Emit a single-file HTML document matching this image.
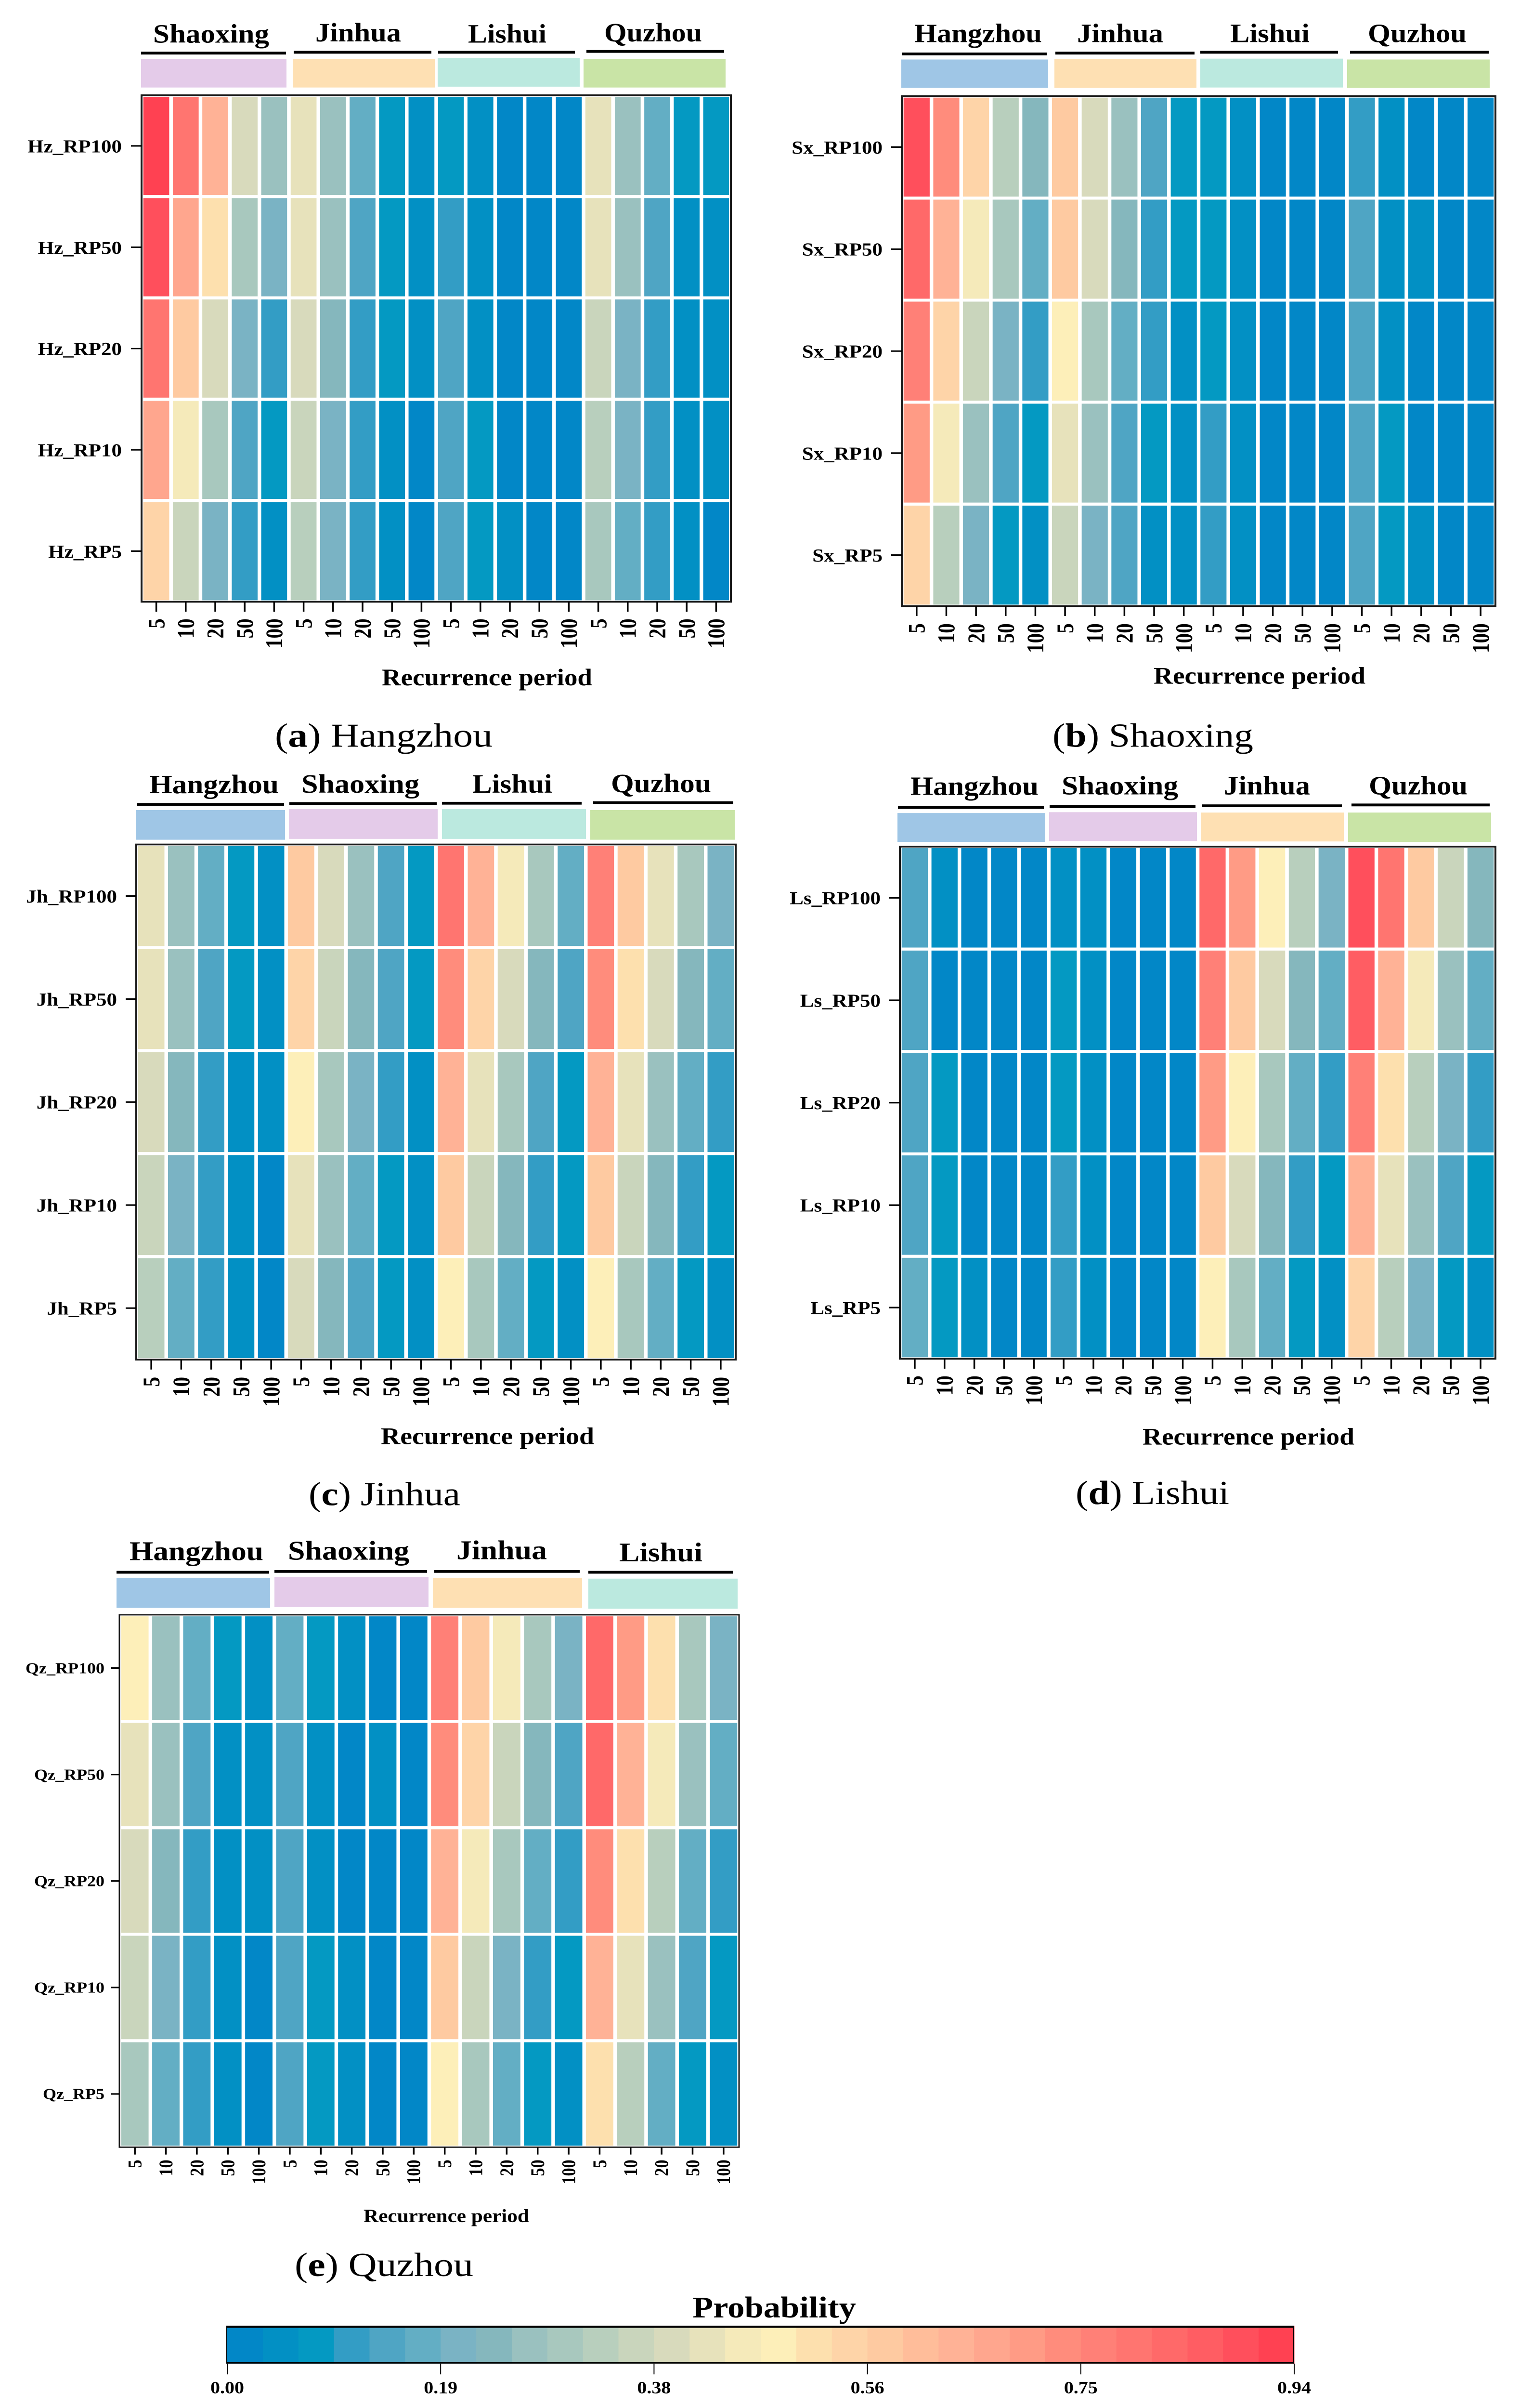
<!DOCTYPE html>
<html lang="en">
<head>
<meta charset="utf-8">
<title>Conditional probability heatmaps</title>
<style>
html,body{margin:0;padding:0;background:#fff;width:100%;height:100%;overflow:hidden;}
svg{display:block;width:100vw;height:100vh;}
text{font-family:"Liberation Serif",serif;fill:#000;}
</style>
</head>
<body>
<svg id="figure" xmlns="http://www.w3.org/2000/svg" viewBox="0 0 3157 5586" preserveAspectRatio="none">
<rect x="0" y="0" width="3157" height="5586" fill="#ffffff"/>
</svg>
<script>
// ---- Data ----
const recurrencePeriods = [5, 10, 20, 50, 100];
const rowPeriods = [100, 50, 20, 10, 5];

const hzGroups = ['Shaoxing', 'Jinhua', 'Lishui', 'Quzhou'];
const sxGroups = ['Hangzhou', 'Jinhua', 'Lishui', 'Quzhou'];
const jhGroups = ['Hangzhou', 'Shaoxing', 'Lishui', 'Quzhou'];
const lsGroups = ['Hangzhou', 'Shaoxing', 'Jinhua', 'Quzhou'];
const qzGroups = ['Hangzhou', 'Shaoxing', 'Jinhua', 'Lishui'];

const hzValues = [
  [.92,.80,.64,.39,.27, .42,.27,.17,.08,.05, .08,.05,.02,.02,.02, .42,.27,.17,.08,.08],
  [.89,.67,.52,.30,.20, .42,.27,.14,.08,.05, .11,.05,.02,.02,.02, .42,.27,.14,.05,.05],
  [.80,.58,.39,.20,.11, .39,.24,.11,.08,.05, .14,.05,.02,.02,.02, .36,.20,.11,.05,.05],
  [.67,.45,.30,.14,.08, .36,.20,.11,.05,.02, .14,.08,.02,.02,.02, .33,.20,.11,.05,.05],
  [.55,.36,.20,.11,.05, .33,.20,.11,.05,.02, .14,.08,.05,.02,.02, .30,.17,.11,.05,.02]
];
const sxValues = [
  [.89,.74,.55,.33,.24, .58,.39,.27,.14,.08, .08,.05,.02,.02,.02, .11,.05,.02,.02,.02],
  [.83,.64,.45,.30,.17, .58,.39,.24,.11,.08, .08,.05,.02,.02,.02, .14,.05,.05,.02,.02],
  [.77,.55,.36,.20,.11, .49,.30,.17,.11,.05, .08,.05,.02,.02,.02, .14,.05,.02,.02,.02],
  [.71,.45,.27,.14,.08, .42,.27,.14,.08,.05, .11,.05,.02,.02,.02, .14,.08,.02,.02,.02],
  [.55,.33,.20,.08,.05, .36,.20,.14,.05,.05, .11,.05,.02,.02,.02, .14,.08,.05,.02,.02]
];
const jhValues = [
  [.42,.27,.17,.08,.05, .58,.39,.27,.14,.08, .80,.64,.45,.30,.17, .77,.58,.42,.30,.20],
  [.42,.27,.14,.08,.05, .55,.36,.24,.14,.08, .74,.55,.39,.24,.14, .74,.52,.39,.24,.17],
  [.39,.24,.11,.05,.05, .49,.30,.20,.11,.05, .64,.42,.30,.14,.08, .64,.42,.27,.17,.11],
  [.36,.20,.11,.05,.02, .42,.27,.17,.08,.05, .58,.36,.24,.11,.08, .58,.36,.24,.11,.08],
  [.33,.17,.11,.05,.02, .39,.24,.14,.08,.05, .49,.30,.17,.08,.05, .49,.30,.17,.08,.05]
];
const lsValues = [
  [.14,.05,.02,.02,.02, .05,.05,.02,.02,.02, .83,.71,.49,.33,.20, .89,.80,.58,.36,.24],
  [.14,.02,.02,.02,.02, .08,.05,.02,.02,.02, .77,.58,.39,.24,.17, .86,.64,.45,.27,.17],
  [.14,.08,.02,.02,.02, .08,.05,.02,.02,.02, .71,.49,.30,.17,.11, .77,.52,.33,.20,.11],
  [.14,.08,.02,.02,.02, .11,.05,.02,.02,.02, .58,.39,.24,.11,.08, .64,.42,.27,.14,.08],
  [.17,.08,.05,.02,.02, .11,.05,.02,.02,.02, .49,.30,.17,.08,.05, .55,.33,.20,.08,.05]
];
const qzValues = [
  [.49,.27,.17,.08,.05, .17,.08,.05,.02,.02, .77,.58,.45,.30,.20, .83,.71,.52,.30,.20],
  [.42,.27,.14,.05,.05, .14,.05,.02,.05,.02, .74,.55,.36,.24,.14, .83,.64,.45,.27,.17],
  [.39,.24,.11,.05,.05, .14,.05,.02,.02,.02, .64,.45,.30,.17,.11, .74,.52,.33,.17,.11],
  [.36,.20,.11,.05,.02, .14,.08,.05,.02,.02, .58,.36,.20,.11,.08, .64,.42,.27,.14,.08],
  [.30,.17,.11,.05,.02, .14,.08,.05,.02,.02, .49,.30,.17,.08,.05, .52,.33,.17,.08,.05]
];

const colorbarTicks = [0, 0.188, 0.376, 0.564, 0.752, 0.94];
const scaleMax = 0.94;

// ---- Styles & layout ----
const palette = ['#0287c7','#0290c4','#0499c2','#339dc5','#4fa5c4','#63aec4','#7ab3c4','#85b7bd','#9ac1bf','#a8c8be',
  '#b8cfbd','#c9d5bc','#d8dabc','#e7e2bb','#f5eaba','#fdefb9','#fde0ae','#fed4a8','#fecaa1','#ffbd9a',
  '#ffb296','#ffa68e','#ff9b85','#ff8c7c','#ff8077','#ff7570','#ff6969','#ff5d63','#ff4f5c','#ff4152'];
const cityColors = {Hangzhou:'#9fc6e6', Shaoxing:'#e4cbe9', Jinhua:'#fee0b3', Lishui:'#bbe9df', Quzhou:'#c9e4a6'};

const panels = [
  {id:'hangzhou', prefix:'Hz', letter:'a', city:'Hangzhou', values:hzValues, groups:hzGroups,
   L:294,R:1518,T:221,B:1396, border:4, tick:22, yFont:43, yRight:253, yBase:15, xFont:50, xAdv:23, xTop:1435, xTick:23,
   titleX:[793,1230], titleBase:1590, titleFont:55, capX:[571,1023], capBase:1732,
   groupLine:[[293,594,123],[610,896,121],[910,1194,121],[1218,1504,119]],
   groupBar:[[293,595,137,66],[608,903,137,66],[909,1204,135,66],[1212,1507,137,66]],
   groupText:[[318,559,99],[655,833,96],[972,1135,99],[1255,1458,96]], groupFont:62},
  {id:'shaoxing', prefix:'Sx', letter:'b', city:'Shaoxing', values:sxValues, groups:sxGroups,
   L:1873,R:3106,T:223,B:1406, border:4, tick:22, yFont:43, yRight:1833, yBase:15, xFont:50, xAdv:23, xTop:1446, xTick:23,
   titleX:[2396,2836], titleBase:1586, titleFont:55, capX:[2186,2603], capBase:1732,
   groupLine:[[1873,2174,125],[2192,2481,123],[2493,2779,121],[2804,3092,121]],
   groupBar:[[1872,2177,138,66],[2190,2485,137,67],[2493,2789,136,67],[2798,3094,138,66]],
   groupText:[[1899,2164,98],[2237,2416,98],[2555,2720,98],[2841,3046,98]], groupFont:62},
  {id:'jinhua', prefix:'Jh', letter:'c', city:'Jinhua', values:jhValues, groups:jhGroups,
   L:283,R:1528,T:1959,B:3154, border:4, tick:22, yFont:43, yRight:243, yBase:15, xFont:50, xAdv:23, xTop:3194, xTick:23,
   titleX:[791,1234], titleBase:3350, titleFont:55, capX:[641,956], capBase:3492,
   groupLine:[[284,590,1866],[601,907,1864],[918,1208,1863],[1232,1523,1862]],
   groupBar:[[283,592,1879,69],[600,909,1877,69],[918,1217,1877,69],[1226,1526,1879,69]],
   groupText:[[310,579,1840],[626,871,1839],[981,1147,1839],[1269,1477,1838]], groupFont:62},
  {id:'lishui', prefix:'Ls', letter:'d', city:'Lishui', values:lsValues, groups:lsGroups,
   L:1869,R:3106,T:1964,B:3152, border:4, tick:22, yFont:43, yRight:1829, yBase:15, xFont:50, xAdv:23, xTop:3191, xTick:23,
   titleX:[2373,2813], titleBase:3351, titleFont:55, capX:[2234,2553], capBase:3489,
   groupLine:[[1865,2168,1873],[2180,2483,1871],[2497,2787,1869],[2807,3094,1867]],
   groupBar:[[1864,2171,1886,67],[2179,2486,1884,67],[2494,2791,1885,67],[2800,3097,1885,68]],
   groupText:[[1891,2157,1844],[2205,2447,1843],[2542,2721,1843],[2843,3048,1843]], groupFont:62},
  {id:'quzhou', prefix:'Qz', letter:'e', city:'Quzhou', values:qzValues, groups:qzGroups,
   L:248,R:1535,T:3746,B:4981, border:3, tick:17, yFont:36, yRight:217, yBase:12, xFont:40, xAdv:19, xTop:5010, xTick:17,
   titleX:[755,1099], titleBase:5155, titleFont:44, capX:[612,983], capBase:5280,
   groupLine:[[242,559,3647],[570,887,3645],[902,1204,3645],[1222,1522,3647]],
   groupBar:[[242,561,3660,70],[570,890,3658,70],[899,1209,3660,70],[1222,1532,3662,70]],
   groupText:[[269,547,3619],[598,850,3618],[948,1136,3617],[1286,1459,3622]], groupFont:63}
];
const colorbarBox = {L:470, R:2688, T:5395, B:5483};

// ---- Helpers ----
const NS = 'http://www.w3.org/2000/svg';
const figure = document.getElementById('figure');
function make(parent, tag, attrs) {
  const el = document.createElementNS(NS, tag);
  for (const k in attrs) el.setAttribute(k, attrs[k]);
  parent.appendChild(el);
  return el;
}
function colorScale(v) {
  const n = palette.length;
  const i = Math.max(0, Math.min(n - 1, Math.floor(v / scaleMax * n)));
  return palette[i];
}

// ---- Panels ----
panels.forEach(function (p) {
  const g = make(figure, 'g', {});
  
  

  const nRows = p.values.length;
  const nCols = p.values[0].length;
  const xScale = function (c) { return p.L + (p.R - p.L) * c / nCols; };
  const yScale = function (r) { return p.T + (p.B - p.T) * r / nRows; };
  const cellW = xScale(1) - xScale(0);
  const cellH = yScale(1) - yScale(0);
  const gapX = 7.5, gapY = 7;

  // group headers
  p.groups.forEach(function (name, i) {
    const tx = p.groupText[i];
    const label = make(g, 'text', {x: tx[0], y: tx[2], 'font-size': p.groupFont, 'font-weight': 'bold',
      textLength: tx[1] - tx[0], lengthAdjust: 'spacingAndGlyphs'});
    label.textContent = name;
    
    

    const ln = p.groupLine[i];
    const line = make(g, 'rect', {x: ln[0], y: ln[2] - 3, width: ln[1] - ln[0], height: 6.5, fill: '#000'});
    
    

    const b = p.groupBar[i];
    const bar = make(g, 'rect', {x: b[0], y: b[2], width: b[1] - b[0], height: b[3], fill: cityColors[name]});
    
    
  });

  // cells
  p.values.forEach(function (row, r) {
    row.forEach(function (v, c) {
      const cell = make(g, 'rect', {x: xScale(c) + gapX / 2, y: yScale(r) + gapY / 2,
        width: cellW - gapX, height: cellH - gapY, fill: colorScale(v)});
      
      
    });
  });

  // border
  const frame = make(g, 'rect', {x: p.L, y: p.T, width: p.R - p.L, height: p.B - p.T, fill: 'none',
    stroke: '#1a1a1a', 'stroke-width': p.border});
  
  

  // y axis
  rowPeriods.forEach(function (rp, r) {
    const y = yScale(r + 0.5);
    const tick = make(g, 'line', {x1: p.L - p.tick, x2: p.L, y1: y, y2: y, stroke: '#000', 'stroke-width': 3.5});
    
    
    const t = make(g, 'text', {x: p.yRight, y: y + p.yBase, 'font-size': p.yFont, 'font-weight': 'bold', 'text-anchor': 'end'});
    t.textContent = p.prefix + '_RP' + rp;
    
    
  });

  // x axis
  for (let c = 0; c < nCols; c++) {
    const x = xScale(c + 0.5);
    const period = String(recurrencePeriods[c % recurrencePeriods.length]);
    const tick = make(g, 'line', {x1: x, x2: x, y1: p.B, y2: p.B + p.xTick, stroke: '#000', 'stroke-width': 3.5});
    
    
    const bx = x + p.xFont * 0.335;
    const t = make(g, 'text', {x: bx, y: p.xTop, 'font-size': p.xFont, 'font-weight': 'bold', 'text-anchor': 'end',
      textLength: period.length * p.xAdv, lengthAdjust: 'spacingAndGlyphs',
      transform: 'rotate(-90 ' + bx + ' ' + p.xTop + ')'});
    t.textContent = period;
    
    
  }

  // axis title
  const title = make(g, 'text', {x: p.titleX[0], y: p.titleBase, 'font-size': p.titleFont, 'font-weight': 'bold',
    textLength: p.titleX[1] - p.titleX[0], lengthAdjust: 'spacingAndGlyphs'});
  title.textContent = 'Recurrence period';
  
  

  // caption
  const cap = make(g, 'text', {x: p.capX[0], y: p.capBase, 'font-size': 78,
    textLength: p.capX[1] - p.capX[0], lengthAdjust: 'spacingAndGlyphs'});
  cap.appendChild(document.createTextNode('('));
  const letter = make(cap, 'tspan', {'font-weight': 'bold'});
  letter.textContent = p.letter;
  cap.appendChild(document.createTextNode(') ' + p.city));
  
  
});

// ---- Colorbar ----
(function () {
  const box = colorbarBox;
  const g = make(figure, 'g', {});
  
  
  const cbX = function (v) { return box.L + 2 + (box.R - box.L - 2) * v / scaleMax; };

  const title = make(g, 'text', {x: 1438, y: 5376, 'font-size': 70, 'font-weight': 'bold',
    textLength: 340, lengthAdjust: 'spacingAndGlyphs'});
  title.textContent = 'Probability';
  
  

  palette.forEach(function (col, i) {
    const x0 = cbX(i / palette.length * scaleMax);
    const x1 = cbX((i + 1) / palette.length * scaleMax);
    const seg = make(g, 'rect', {x: x0, y: box.T, width: x1 - x0 + 0.5, height: box.B - box.T, fill: col});
    
    
  });

  const top = make(g, 'rect', {x: box.L, y: box.T, width: box.R - box.L, height: 5, fill: '#000'});
  
  
  const bottom = make(g, 'rect', {x: box.L, y: box.B - 4, width: box.R - box.L, height: 4, fill: '#000'});
  
  
  const leftEdge = make(g, 'rect', {x: box.L, y: box.T, width: 2, height: box.B - box.T, fill: '#000'});
  
  
  const rightEdge = make(g, 'rect', {x: box.R - 2, y: box.T, width: 2, height: box.B - box.T, fill: '#000'});
  
  

  colorbarTicks.forEach(function (v) {
    const x = cbX(v);
    const tick = make(g, 'line', {x1: x, x2: x, y1: box.B, y2: box.B + 25, stroke: '#000', 'stroke-width': 2});
    
    
    const t = make(g, 'text', {x: x, y: 5552, 'font-size': 40, 'font-weight': 'bold', 'text-anchor': 'middle'});
    t.textContent = v.toFixed(2);
    
    
  });
})();
</script>
</body>
</html>
